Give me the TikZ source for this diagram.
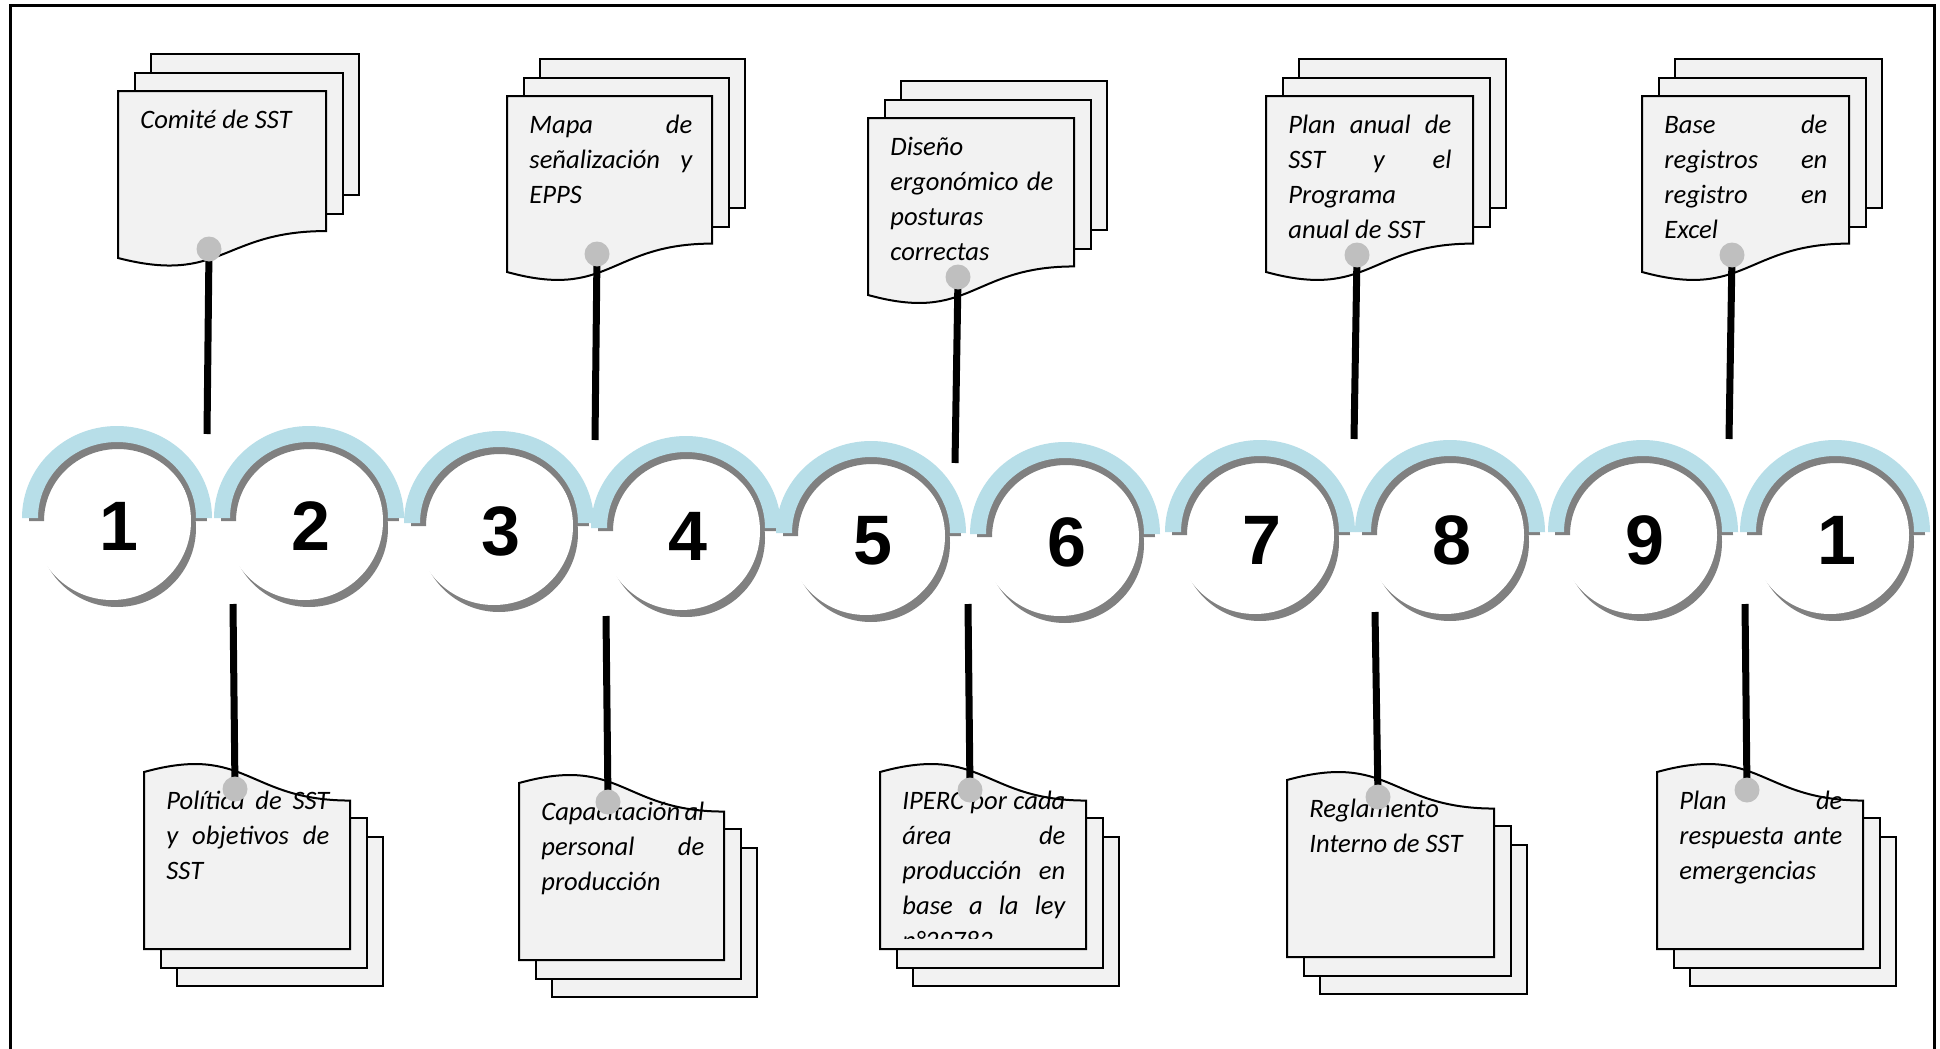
\documentclass[tikz,border=0pt]{standalone}
\usepackage{fontspec}
\setmainfont{Carlito}
\newfontfamily\numfam{Liberation Sans}
\setlength\parindent{0pt}
\definecolor{ringblue}{HTML}{B7DEE8}
\definecolor{shgray}{HTML}{808080}
\definecolor{dotgray}{HTML}{BFBFBF}
\definecolor{docfill}{HTML}{F2F2F2}
\newcommand\jl[1]{\makebox[81.5pt][l]{#1}}
\newcommand\fst{\rule{0pt}{12pt}}
\newcommand\ringdraw[4]{%
 \begin{scope}[shift={(#1,-#2)}]
  \fill[shgray] (0,-10) circle[radius=79];
  \fill[white] (-5,-3) circle[radius=79];
  \fill[shgray] (-88,-3) arc[start angle=180,end angle=0,x radius=89,y radius=87] -- (75,-3) arc[start angle=0,end angle=180,x radius=74,y radius=72] -- cycle;
  \fill[ringblue] (-95,0) arc[start angle=180,end angle=0,x radius=95,y radius=92] -- (79,0) arc[start angle=0,end angle=180,x radius=79,y radius=76] -- cycle;
  \node[numtext] (#4) at (2,-8) {#3};
 \end{scope}}
\newcommand\topdoc[4]{%
 \path[docpage] ({#1+33},{-(#2-37)}) rectangle ({#1+#3+33},{-(#2+0.8387*#4-36)});
 \path[docpage] ({#1+16.5},{-(#2-18.5)}) rectangle ({#1+#3+16.5},{-(#2+0.8387*#4-17)});
 \path[docpage] (#1,-#2) -- ({#1+#3},-#2) -- ({#1+#3},{-(#2+0.8387*#4)}) .. controls ({#1+0.5*#3},{-(#2+0.8387*#4)}) and ({#1+0.5*#3},{-(#2+1.161*#4)}) .. (#1,{-(#2+#4)}) -- cycle;}
\newcommand\botdoc[4]{%
 \path[docpage] ({#1+33},{-(#2+37)}) rectangle ({#1+#3+33},{-(#2-0.8387*#4+36)});
 \path[docpage] ({#1+16.5},{-(#2+18.5)}) rectangle ({#1+#3+16.5},{-(#2-0.8387*#4+17)});
 \path[docpage] (#1,-#2) -- ({#1+#3},-#2) -- ({#1+#3},{-(#2-0.8387*#4)}) .. controls ({#1+0.5*#3},{-(#2-0.8387*#4)}) and ({#1+0.5*#3},{-(#2-1.161*#4)}) .. (#1,{-(#2-#4)}) -- cycle;}
\tikzset{
 docpage/.style={fill=docfill, draw=black, line width=1pt},
 doctext/.style={anchor=north west, inner sep=0pt, align=left, font=\fontsize{13.3pt}{17.5pt}\selectfont\itshape},
 numtext/.style={inner sep=0pt, font=\numfam\bfseries\fontsize{35pt}{40pt}\selectfont},
 conn/.style={line width=3.5pt, draw=black},
 graydot/.style={circle, fill=dotgray, minimum size=12.5pt, inner sep=0pt}
}
\begin{document}
\begin{tikzpicture}[x=0.5pt,y=0.5pt]
\useasboundingbox (0,0) rectangle (1940,-1049);
\clip (0,0) rectangle (1940,-1049);
\fill[white] (0,0) rectangle (1940,-1049);
\draw[line width=1.5pt] (10,-1060) -- (10,-5) -- (1934,-5) -- (1934,-1060);

% rings
\ringdraw{117}{518}{1}{n1}
\ringdraw{309}{518}{2}{n2}
\ringdraw{499}{523}{3}{n3}
\ringdraw{686}{528}{4}{n4}
\ringdraw{871}{533}{5}{n5}
\ringdraw{1065}{534}{6}{n6}
\ringdraw{1260}{532}{7}{n7}
\ringdraw{1450}{532}{8}{n8}
\ringdraw{1643}{532}{9}{n9}
\ringdraw{1835}{532}{1}{n10}

% top documents
\topdoc{118}{91}{208}{167}
\node[doctext] (t1) at (140,-104.5) {\fst Comité de SST};
\topdoc{507}{96}{205}{176}
\node[doctext] (t3) at (529,-109.5) {\fst\jl{Mapa\hfill de}\\\jl{señalización\hfill y}\\EPPS};
\topdoc{868}{118}{206}{177}
\node[doctext] (t5) at (890,-131.5) {\fst Diseño\\\jl{ergonómico\hfill de}\\posturas\\correctas};
\topdoc{1266}{96}{207}{176}
\node[doctext] (t7) at (1288,-109.5) {\fst\jl{Plan\hfill anual\hfill de}\\\jl{SST\hfill y\hfill el}\\Programa\\anual de SST};
\topdoc{1642}{96}{207}{176}
\node[doctext] (t9) at (1664,-109.5) {\fst\jl{Base\hfill de}\\\jl{registros\hfill en}\\\jl{registro\hfill en}\\Excel};

% bottom documents
\botdoc{144}{949}{206}{177}
\node[doctext] (b1) at (166,-785.5) {\fst\jl{Política\hfill de\hfill SST}\\\jl{y\hfill objetivos\hfill de}\\SST};
\botdoc{519}{960}{205}{177}
\node[doctext] (b3) at (541,-796.5) {\fst\jl{Capacitación\hfill al}\\\jl{personal\hfill de}\\producción};
\botdoc{880}{949}{206}{177}
\begin{scope}
\clip (880,-700) rectangle (1086,-938);
\node[doctext] (b5) at (902,-785.5) {\fst\jl{IPERC\hfill por\hfill cada}\\\jl{área\hfill de}\\\jl{producción\hfill en}\\\jl{base\hfill a\hfill la\hfill ley}\\n°29783};
\end{scope}
\botdoc{1287}{957}{207}{177}
\node[doctext] (b7) at (1309,-793.5) {\fst Reglamento\\Interno de SST};
\botdoc{1657}{949}{206}{177}
\node[doctext] (b9) at (1679,-785.5) {\fst\jl{Plan\hfill de}\\\jl{respuesta\hfill ante}\\emergencias};

% connectors
\coordinate (p1) at (209,-249);  \coordinate (q1) at (207,-434);
\coordinate (p3) at (597,-254);  \coordinate (q3) at (595,-440);
\coordinate (p5) at (958,-277);  \coordinate (q5) at (955,-463);
\coordinate (p7) at (1357,-255); \coordinate (q7) at (1354,-439);
\coordinate (p9) at (1732,-255); \coordinate (q9) at (1729,-439);
\coordinate (r2) at (235,-789);  \coordinate (s2) at (233,-604);
\coordinate (r4) at (608,-802);  \coordinate (s4) at (606,-616);
\coordinate (r6) at (970,-790);  \coordinate (s6) at (968,-604);
\coordinate (r8) at (1378,-797); \coordinate (s8) at (1375,-612);
\coordinate (r10) at (1747,-790);\coordinate (s10) at (1745,-604);
\foreach \a/\b in {p1/q1,p3/q3,p5/q5,p7/q7,p9/q9,r2/s2,r4/s4,r6/s6,r8/s8,r10/s10}
  \draw[conn] (\a) -- (\b);
\foreach \a in {p1,p3,p5,p7,p9,r2,r4,r6,r8,r10}
  \node[graydot] (dot\a) at (\a) {};
\end{tikzpicture}
\end{document}
